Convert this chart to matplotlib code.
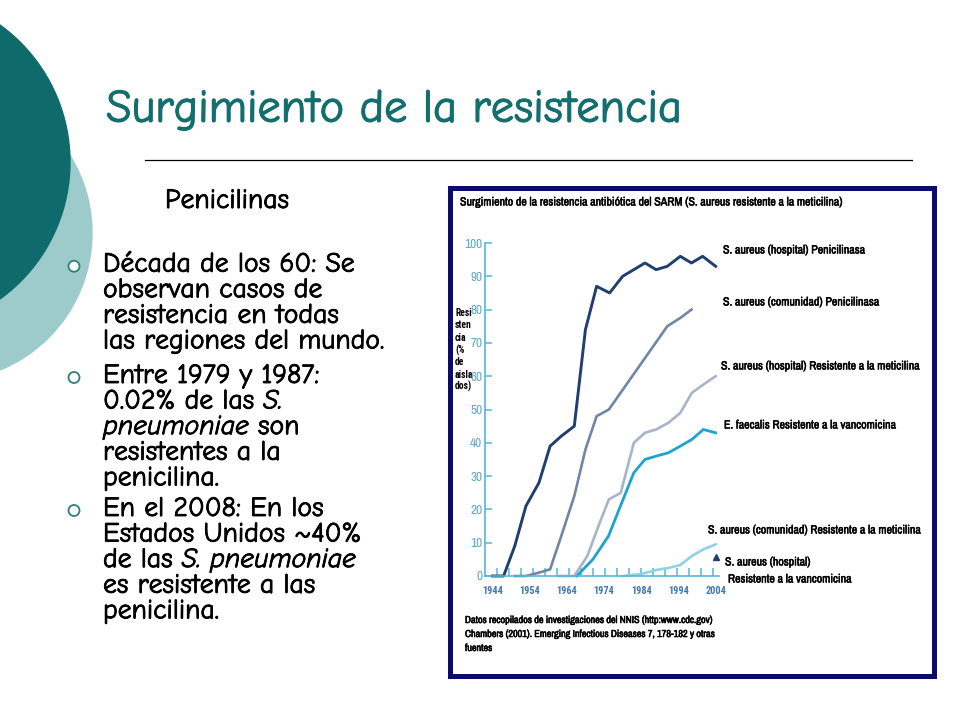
import matplotlib
matplotlib.use("Agg")
import matplotlib.pyplot as plt
import matplotlib.patches as mpatches
import matplotlib.patheffects as pe
import numpy as np

# data (percent of resistant isolates)
hosp_pen_years = [1944, 1947, 1950, 1953, 1956.5, 1959.5, 1962.5, 1966, 1969, 1972, 1975.5,
                  1979, 1982, 1985, 1988, 1991, 1994.5, 1997.5, 2000.5, 2004]
hosp_pen_vals = [0, 0, 9, 21, 28, 39, 42, 45, 74, 87, 85, 90, 92, 94, 92, 93, 96, 94, 96, 93]

com_pen_years = [1950, 1953, 1956.5, 1959.5, 1962.5, 1966, 1969, 1972, 1975.3, 1991, 1994.5, 1997.5]
com_pen_vals = [0, 0, 1, 2, 12, 24, 38, 48, 50, 75, 77.5, 80]

hosp_met_years = [1962, 1966, 1969.5, 1972.5, 1975.3, 1978.5, 1982, 1985, 1988, 1991.3,
                  1994.5, 1997.6, 2000.7, 2004]
hosp_met_vals = [0, 0, 6, 15, 23, 25, 40, 43, 44, 46, 49, 55, 57.5, 60]

faec_years = [1966.7, 1971, 1975.2, 1978.4, 1982, 1985, 1988, 1991.3, 1994.5, 1997.6, 2000.7, 2004]
faec_vals = [0, 5, 12, 21, 31, 35, 36, 37, 39, 41, 44, 43]

com_met_years = [1979, 1984, 1988, 1991.3, 1994.5, 1997.6, 2000.7, 2004]
com_met_vals = [0, 0.6, 1.8, 2.4, 3.3, 6, 8, 9.5]

vanc_year = [2004]
vanc_val = [5.7]

decade_ticks = [1944, 1954, 1964, 1974, 1984, 1994, 2004]
pct_ticks = [0, 10, 20, 30, 40, 50, 60, 70, 80, 90, 100]

series_labels = [
    "S. aureus (hospital) Penicilinasa",
    "S. aureus (comunidad) Penicilinasa",
    "S. aureus (hospital) Resistente a la meticilina",
    "E. faecalis Resistente a la vancomicina",
    "S. aureus (comunidad) Resistente a la meticilina",
]

slide_font = ["Comic Neue", "DejaVu Sans"]
narrow = ["Archivo Narrow", "Roboto Condensed", "DejaVu Sans"]
narrow_bold = ["Roboto Condensed", "DejaVu Sans"]
teal = "#0f6b6b"

fig = plt.figure(figsize=(9.6, 7.2), dpi=100)
renderer = fig.canvas.get_renderer()


def fit_size(s, target, family, weight="normal", style="normal", base=10):
    # font size that makes string s about target pixels wide
    t = fig.text(0, 0, s, fontsize=base, family=family, weight=weight, style=style)
    w = t.get_window_extent(renderer).width
    t.remove()
    return base * target / w


def heavy(color, lw=0.6):
    return [pe.withStroke(linewidth=lw, foreground=color)]


bg = fig.add_axes([0, 0, 1, 1])
bg.set_xlim(0, 960)
bg.set_ylim(720, 0)
bg.axis("off")

# decoration circles on the left
bg.add_patch(mpatches.Circle((-56, 233), 148, color="#9dcbcc", zorder=1))
bg.add_patch(mpatches.Circle((-99, 162), 169, color=teal, zorder=2))

title_size = fit_size("Surgimiento de la resistencia", 580, slide_font)
bg.text(106, 121.7, "Surgimiento de la resistencia", color="#136f6e", fontsize=title_size,
        family=slide_font, va="baseline", ha="left", path_effects=heavy("#136f6e", 0.8))
bg.plot([145, 912], [160, 160], color="black", lw=0.9)

body_size = fit_size("las regiones del mundo.", 283, slide_font)
bg.text(165, 208, "Penicilinas", fontsize=body_size, family=slide_font, va="baseline",
        path_effects=heavy("black"))


def draw_line(x, y, parts, size):
    prev = None
    for txt, style in parts:
        if prev is None:
            prev = bg.text(x, y, txt, fontsize=size, family=slide_font, style=style,
                           va="baseline", ha="left", path_effects=heavy("black"))
        else:
            prev = bg.annotate(txt, xy=(1, 0), xycoords=prev, fontsize=size,
                               family=slide_font, style=style, va="bottom", ha="left",
                               path_effects=heavy("black"))


bullets = [
    [[("Década de los 60: Se", "normal")],
     [("observan casos de", "normal")],
     [("resistencia en todas", "normal")],
     [("las regiones del mundo.", "normal")]],
    [[("Entre 1979 y 1987:", "normal")],
     [("0.02% de las ", "normal"), ("S.", "italic")],
     [("pneumoniae", "italic"), (" son", "normal")],
     [("resistentes a la", "normal")],
     [("penicilina.", "normal")]],
    [[("En el 2008: En los", "normal")],
     [("Estados Unidos ~40%", "normal")],
     [("de las ", "normal"), ("S. pneumoniae", "italic")],
     [("es resistente a las", "normal")],
     [("penicilina.", "normal")]],
]
first_baselines = [271.7, 383, 516]
line_gap = 25.6

for start, item in zip(first_baselines, bullets):
    bg.add_patch(mpatches.Circle((74, start - 5.5), 5.5, facecolor="white",
                                 edgecolor="#2f7f7f", lw=1.3, zorder=3))
    for i, parts in enumerate(item):
        draw_line(103, start + i * line_gap, parts, body_size)

# framed chart panel
bg.add_patch(mpatches.Rectangle((449.5, 187.5), 484, 488, facecolor="white",
                                edgecolor="#0b0b6b", lw=3.6, zorder=2))

chart_title = "Surgimiento de la resistencia antibiótica del SARM (S. aureus resistente a la meticilina)"
bg.text(460, 202, chart_title, fontsize=fit_size(chart_title, 385, narrow),
        family=narrow, va="center", ha="left", zorder=5, path_effects=heavy("black", 0.35))

lab_size = fit_size(series_labels[4], 214, narrow)
label_pos = [(723, 250), (723, 302), (721, 366), (724, 425), (708, 530)]
for (lx, ly), lab in zip(label_pos, series_labels):
    bg.text(lx, ly, lab, fontsize=lab_size, family=narrow, va="center", ha="left", zorder=5,
            path_effects=heavy("black", 0.35))
bg.text(725, 562, "S. aureus (hospital)", fontsize=lab_size, family=narrow,
        va="center", zorder=5, path_effects=heavy("black", 0.35))
bg.text(728, 579, "Resistente a la vancomicina", fontsize=lab_size, family=narrow,
        va="center", zorder=5, path_effects=heavy("black", 0.35))

foot = ["Datos recopilados de investigaciones del NNIS (http:www.cdc.gov)",
        "Chambers (2001). Emerging Infectious Diseases 7, 178-182 y otras",
        "fuentes"]
foot_size = fit_size(foot[0], 248, narrow)
for i, s in enumerate(foot):
    bg.text(465, 620 + i * 14, s, fontsize=foot_size, family=narrow,
            va="center", zorder=5, path_effects=heavy("black", 0.4))

# chart axes
ax = fig.add_axes([485 / 960, 1 - 576 / 720, (719 - 485) / 960, (576 - 243) / 720])
ax.set_facecolor("none")
ax.set_zorder(3)
ax.set_xlim(1942, 2004.9)
ax.set_ylim(0, 100)
for side in ["top", "right"]:
    ax.spines[side].set_visible(False)
for side in ["left", "bottom"]:
    ax.spines[side].set_color("#55b8d4")
    ax.spines[side].set_linewidth(1.2)

ax.plot(hosp_pen_years, hosp_pen_vals, color="#1f3f6e", lw=2.1, clip_on=False)
ax.plot(com_pen_years, com_pen_vals, color="#6f86a6", lw=1.9, clip_on=False)
ax.plot(hosp_met_years, hosp_met_vals, color="#a9b3c9", lw=1.9, clip_on=False)
ax.plot(faec_years, faec_vals, color="#1ea2cf", lw=2.0, clip_on=False)
ax.plot(com_met_years, com_met_vals, color="#8fd2e6", lw=1.9, clip_on=False)
ax.plot(vanc_year, vanc_val, marker="^", color="#1f3f6e", ms=5, ls="none", clip_on=False)

xt_size = fit_size("1944", 21, narrow_bold, weight="bold")
ax.set_xticks(decade_ticks)
ax.set_xticks(np.arange(1945.2, 2004, 3.23), minor=True)
ax.tick_params(axis="x", which="major", length=0, pad=7, labelsize=xt_size, labelcolor="#3d78b0")
ax.tick_params(axis="x", which="minor", direction="in", length=6, color="#55b8d4", width=1.1)
for t in ax.get_xticklabels():
    t.set_family(narrow_bold)
    t.set_weight("bold")

yt_size = fit_size("100", 18, narrow)
ax.set_yticks(pct_ticks)
ax.tick_params(axis="y", direction="in", length=5, color="#55b8d4", width=1.1, pad=2,
               labelsize=yt_size, labelcolor="#5aa8cc")
for t in ax.get_yticklabels():
    t.set_family(narrow)

# vertical axis title sits over part of the tick labels
bg.add_patch(mpatches.Rectangle((453, 306), 19, 88, facecolor="white", edgecolor="none", zorder=6))
ylab = ["Resi", "sten", "cia", "(%", "de", "aisla", "dos)"]
ylab_size = fit_size("aisla", 18.5, narrow_bold, weight="bold")
for i, s in enumerate(ylab):
    bg.text(455, 313 + i * 12.3, s, fontsize=ylab_size, family=narrow_bold, weight="bold",
            va="center", ha="left", zorder=7)
bg.set_zorder(1)

fig.savefig("out.png", dpi=100)
